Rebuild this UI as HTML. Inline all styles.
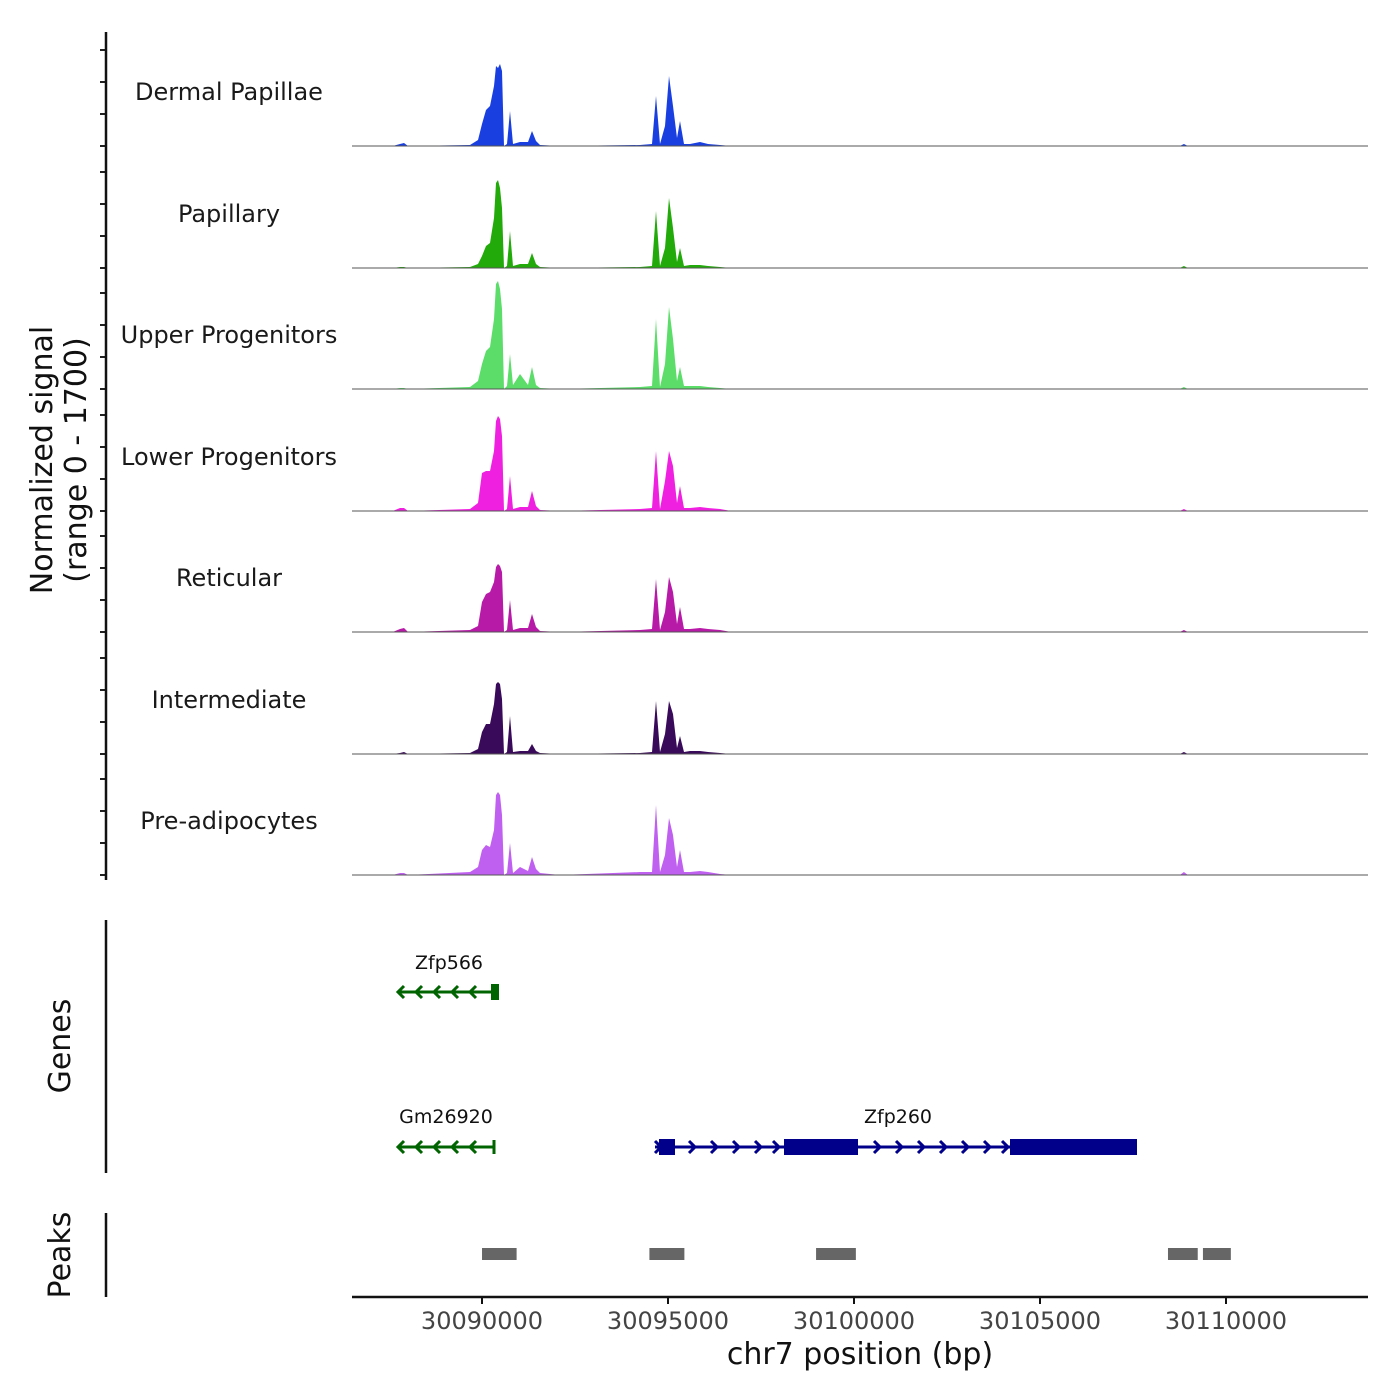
<!DOCTYPE html>
<html><head><meta charset="utf-8"><style>
html,body{margin:0;padding:0;background:#fff}
svg{display:block;font-family:"DejaVu Sans","Liberation Sans",sans-serif}
</style></head><body>
<svg id="chart" width="1400" height="1400" viewBox="0 0 1400 1400"></svg>
<script>
// ---- data ----
const trackNames = ["Dermal Papillae","Papillary","Upper Progenitors","Lower Progenitors","Reticular","Intermediate","Pre-adipocytes"];
const trackColors = ["#1a3fe0","#22aa0a","#5cdd6a","#f020e0","#b81aa8","#3a0a5a","#c060f0"];
const positions = [30087600,30087795,30087903,30088010,30089677,30089892,30090000,30090107,30090215,30090322,30090376,30090430,30090484,30090538,30090591,30090672,30090753,30090833,30091021,30091236,30091344,30091451,30091559,30092096,30094247,30094570,30094677,30094785,30094919,30095027,30095134,30095242,30095323,30095430,30095591,30095860,30096075,30096397,30096700,30108761,30108869,30108976];
const sigDermal = [0,2,3,0,1,6,22,36,40,60,80,78,82,75,0,2,35,2,4,4,15,5,1,0,1,2,50,2,20,70,40,8,25,2,2,4,2,1,0,0,2,0];
const sigPapillary = [0,1,1,0,1,4,12,22,25,50,85,88,80,60,0,2,37,2,4,4,15,4,1,0,1,2,57,2,20,70,40,6,20,2,3,3,2,1,0,0,2,0];
const sigUpper = [0,1,1,0,2,8,25,38,42,70,105,108,100,80,0,3,35,4,15,4,22,4,1,0,2,3,70,2,25,82,50,8,22,3,3,3,2,1,0,0,2,0];
const sigLower = [0,3,3,0,2,8,38,40,40,60,90,95,92,75,0,2,35,2,4,4,20,5,1,0,2,3,60,2,30,60,45,8,25,3,3,4,3,2,0,0,2,0];
const sigReticular = [0,3,4,0,2,6,30,38,40,50,65,68,66,60,0,2,32,2,4,4,18,5,1,0,2,3,53,2,20,55,40,8,25,3,3,4,3,2,0,0,2,0];
const sigIntermediate = [0,1,2,0,1,5,22,30,30,50,70,72,70,55,0,2,38,2,3,3,10,3,1,0,1,2,53,2,20,53,40,6,18,2,3,3,2,1,0,0,2,0];
const sigPreadipo = [0,2,2,0,3,8,25,30,28,45,80,83,80,60,0,2,32,2,8,4,18,6,2,0,3,3,70,3,20,57,40,8,25,3,3,4,3,1,0,0,3,0];
const signals = [sigDermal,sigPapillary,sigUpper,sigLower,sigReticular,sigIntermediate,sigPreadipo];
const xTicks = [30090000,30095000,30100000,30105000,30110000];
const peakStarts = [30090000,30094500,30098980,30108440,30109380];
const peakEnds = [30090930,30095440,30100050,30109240,30110130];

// ---- scales ----
const X0=352,X1=1368,D0=30086505,D1=30113817;
const xs=v=>X0+(v-D0)/(D1-D0)*(X1-X0);
const baselines=[146,268,389,511,632,754,875];
const yMax=113, yPx=113;
const NS="http://www.w3.org/2000/svg";
const svg=document.getElementById('chart');
function mk(tag,attrs,parent){const e=document.createElementNS(NS,tag);for(const k in attrs)e.setAttribute(k,attrs[k]);(parent||svg).appendChild(e);return e;}
function txt(s,attrs){const t=mk('text',attrs);t.textContent=s;return t;}

signals.forEach((vals,i)=>{
  const b=baselines[i];
  let d=`M${X0},${b} `;
  positions.forEach((p,j)=>{d+=`L${xs(p).toFixed(1)},${(b-vals[j]/yMax*yPx).toFixed(1)} `;});
  d+=`L${X1},${b} Z`;
  const a=mk('path',{d,fill:trackColors[i]});
  
  
  const l=mk('line',{x1:X0,x2:X1,y1:b,y2:b,stroke:'#555','stroke-width':1});
  
  
  const t=txt(trackNames[i],{x:229,y:b-46,'text-anchor':'middle','font-size':24,fill:'#1a1a1a'});
  
  
  for(let k=0;k<4;k++){
    const tk=mk('line',{x1:100,x2:106,y1:b-k*32,y2:b-k*32,stroke:'#222','stroke-width':2});
    
    
  }
});

svg.insertAdjacentHTML('beforeend',`
<line x1="106" x2="106" y1="32" y2="880" stroke="#111" stroke-width="2.5"/>
<line x1="106" x2="106" y1="920" y2="1173" stroke="#111" stroke-width="2.5"/>
<line x1="106" x2="106" y1="1213" y2="1297" stroke="#111" stroke-width="2.5"/>
<text transform="translate(52,460) rotate(-90)" text-anchor="middle" font-size="30" fill="#111">Normalized signal</text>
<text transform="translate(86,460) rotate(-90)" text-anchor="middle" font-size="30" fill="#111">(range 0 - 1700)</text>
<text transform="translate(70,1046) rotate(-90)" text-anchor="middle" font-size="30" fill="#111">Genes</text>
<text transform="translate(70,1255) rotate(-90)" text-anchor="middle" font-size="30" fill="#111">Peaks</text>
<g stroke="#006400" fill="#006400">
<line x1="398" x2="495" y1="992" y2="992" stroke-width="3"/>
<rect x="491" y="984" width="8" height="16" stroke="none"/>
<path d="M404,986 L398,992 L404,998 M422,986 L416,992 L422,998 M440,986 L434,992 L440,998 M458,986 L452,992 L458,998 M476,986 L470,992 L476,998" fill="none" stroke-width="3"/>
</g>
<text x="449" y="969" text-anchor="middle" font-size="19" fill="#111">Zfp566</text>
<g stroke="#006400" fill="none">
<line x1="398" x2="494" y1="1147" y2="1147" stroke-width="3"/>
<line x1="494" x2="494" y1="1140" y2="1154" stroke-width="3"/>
<path d="M404,1141 L398,1147 L404,1153 M422,1141 L416,1147 L422,1153 M440,1141 L434,1147 L440,1153 M458,1141 L452,1147 L458,1153 M476,1141 L470,1147 L476,1153" stroke-width="3"/>
</g>
<text x="446" y="1123" text-anchor="middle" font-size="19" fill="#111">Gm26920</text>
<g stroke="#00008b" fill="#00008b">
<line x1="655" x2="1137" y1="1147" y2="1147" stroke-width="3"/>
<rect x="659" y="1139" width="16" height="16" stroke="none"/>
<rect x="784" y="1139" width="74" height="16" stroke="none"/>
<rect x="1010" y="1139" width="127" height="16" stroke="none"/>
<path d="M655,1141 L661,1147 L655,1153 M689,1141 L695,1147 L689,1153 M711,1141 L717,1147 L711,1153 M733,1141 L739,1147 L733,1153 M755,1141 L761,1147 L755,1153 M773,1141 L779,1147 L773,1153 M874,1141 L880,1147 L874,1153 M896,1141 L902,1147 L896,1153 M918,1141 L924,1147 L918,1153 M940,1141 L946,1147 L940,1153 M962,1141 L968,1147 L962,1153 M984,1141 L990,1147 L984,1153 M1002,1141 L1008,1147 L1002,1153" fill="none" stroke-width="3"/>
</g>
<text x="898" y="1123" text-anchor="middle" font-size="19" fill="#111">Zfp260</text>
<line x1="352" x2="1368" y1="1297" y2="1297" stroke="#111" stroke-width="2.5"/>
<text x="860" y="1364" text-anchor="middle" font-size="30" fill="#111">chr7 position (bp)</text>
`);
peakStarts.forEach((s,i)=>{
  const r=mk('rect',{x:xs(s),y:1248,width:xs(peakEnds[i])-xs(s),height:12,fill:'#666'});
  
  
});
xTicks.forEach(t=>{
  const x=xs(t);
  const l=mk('line',{x1:x,x2:x,y1:1297,y2:1304,stroke:'#111','stroke-width':2});
  
  
  const tx=txt(String(t),{x:x,y:1329,'text-anchor':'middle','font-size':24,fill:'#444'});
  
  
});
</script>
</body></html>
